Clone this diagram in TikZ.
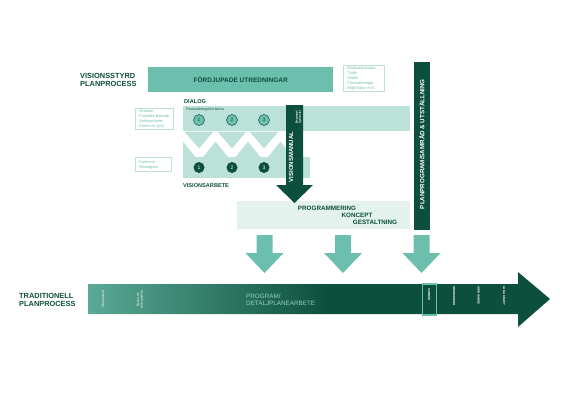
\documentclass[tikz,border=0pt]{standalone}
\usepackage{fontspec}
\setmainfont{Liberation Sans}
\definecolor{dkg}{HTML}{0D4F3D}
\definecolor{tl}{HTML}{6DBFAD}
\definecolor{lt}{HTML}{BBE1D8}
\definecolor{vlt}{HTML}{E4F2EE}
\definecolor{midtl}{HTML}{5AAA95}
\definecolor{pale}{HTML}{93D3C3}
\pgfdeclarehorizontalshading{barshade}{100bp}{color(0bp)=(midtl); color(25bp)=(midtl); color(51bp)=(dkg); color(100bp)=(dkg)}
\begin{document}
\begin{tikzpicture}[x=1pt,y=-1pt,
  biglbl/.style={font=\bfseries\fontsize{7.4}{8.8}\selectfont, text=dkg, align=left, inner sep=0},
  listbox/.style={draw=lt, line width=0.4pt, fill=white, font=\fontsize{3.9}{4.9}\selectfont, text=tl, align=left, inner sep=1.6pt, anchor=north west},
  circA/.style={circle, fill=tl, draw=dkg, line width=0.5pt, minimum size=11pt, inner sep=0, font=\fontsize{5}{6}\selectfont, text=dkg},
  circB/.style={circle, fill=dkg, minimum size=11pt, inner sep=0, font=\fontsize{5}{6}\selectfont, text=white},
  chev/.style={fill=lt, draw=white, line width=3pt, line join=miter},
  tlarrow/.style={fill=tl},
  barlbl/.style={rotate=-90, font=\bfseries\fontsize{2.9}{3.4}\selectfont, text=white, anchor=west, inner sep=0}
]
\useasboundingbox (0,0) rectangle (580,400);

% top label and box
\node[biglbl, anchor=west] (vsp) at (80,80) {VISIONSSTYRD\\PLANPROCESS};
\node[fill=tl, minimum width=185pt, minimum height=25pt, anchor=north west, inner sep=0,
      font=\bfseries\fontsize{6.5}{7.5}\selectfont, text=dkg] (fu) at (148,67) {FÖRDJUPADE UTREDNINGAR};
\node[listbox, text width=38pt] (l1) at (343,65) {- Marknadsanalys\\- Trafik\\- Skolor\\- Förutsättningar\\- Miljö/Natur m.fl.};

% vertical planprogram bar
\node[fill=dkg, minimum width=16pt, minimum height=168pt, anchor=north west, inner sep=0] (pp) at (413.5,62) {};
\node[rotate=90, font=\bfseries\fontsize{6.2}{7}\selectfont, text=white, inner sep=0] (ppt) at ([yshift=2]pp.center) {PLANPROGRAM/SAMRÅD \& UTSTÄLLNING};

% chevrons
\begin{scope}
\clip (183,131) rectangle (287,157);
\foreach \m in {183,215.5,248,280.5}
  \fill[chev] (\m-17,160) -- (\m+17,160) -- (\m,139) -- cycle;
\foreach \c in {199,232,264}
  \fill[chev] (\c-18,130) -- (\c+18,130) -- (\c,151) -- cycle;
\end{scope}

% dialog box
\node[fill=lt, minimum width=227pt, minimum height=25pt, anchor=north west, inner sep=0] (dlg) at (183,106) {};
\node[font=\bfseries\fontsize{5.6}{6.5}\selectfont, text=dkg, anchor=south west, inner sep=0] (dl) at (184,104) {DIALOG};
\node[font=\fontsize{3.5}{4}\selectfont, text=dkg, anchor=north west, inner sep=0] (fb) at (186,108) {Förutsättningslöst behov};
\node[listbox, text width=35pt] (l2) at (135,108) {- Grannar\\- Framtida boende\\- Verksamheter\\- Kommun (tjm)};

% visionsarbete box
\node[fill=lt, minimum width=127pt, minimum height=21pt, anchor=north west, inner sep=0] (va) at (183,157) {};
\node[font=\bfseries\fontsize{5.6}{6.5}\selectfont, text=dkg, anchor=west, inner sep=0] (val) at (183,185.5) {VISIONSARBETE};
\node[listbox, text width=33pt] (l3) at (135,157) {\\- Kommun\\- Markägare\\ };

% circles
\node[circA] (a1) at (199,120) {1};
\node[circA] (a2) at (232,120) {2};
\node[circA] (a3) at (264,120) {3};
\node[circB] (b1) at (199,167.5) {1};
\node[circB] (b2) at (232,167.5) {2};
\node[circB] (b3) at (264,167.5) {3};

% programmering box
\node[fill=vlt, minimum width=173pt, minimum height=28pt, anchor=north west, inner sep=0] (pg) at (237,201) {};
\node[font=\bfseries\fontsize{6.3}{7}\selectfont, text=dkg, inner sep=0] (pg1) at (327,208.5) {PROGRAMMERING};
\node[font=\bfseries\fontsize{6.3}{7}\selectfont, text=dkg, inner sep=0] (pg2) at (357,215.5) {KONCEPT};
\node[font=\bfseries\fontsize{6.3}{7}\selectfont, text=dkg, inner sep=0] (pg3) at (375,222.5) {GESTALTNING};

% visionsmanual arrow
\fill[dkg] (286,105) -- (303,105) -- (303,185) -- (313,185) -- (294.5,203) -- (276,185) -- (286,185) -- cycle;
\node[rotate=90, font=\bfseries\fontsize{6}{7}\selectfont, text=white, inner sep=0] (vm) at (291,157) {VISIONSMANUAL};
\node[rotate=90, font=\bfseries\fontsize{2.9}{3.2}\selectfont, text=white, align=center, inner sep=0] (bs) at (298.5,117) {Begrepp/\\Symboler};

% teal down arrows
\foreach \x in {264.5,343,421.5}
  \fill[tlarrow] (\x-8,235) -- (\x+8,235) -- (\x+8,253) -- (\x+19,253) -- (\x,273) -- (\x-19,253) -- (\x-8,253) -- cycle;

% traditional process arrow
\node[biglbl, anchor=west] (tp) at (19,300) {TRADITIONELL\\PLANPROCESS};
\shade[shading=barshade] (88,284) -- (518,284) -- (518,272) -- (550,299) -- (518,327) -- (518,314) -- (88,314) -- cycle;
\node[rotate=90, font=\fontsize{3.2}{3.6}\selectfont, text=white, inner sep=0] (pb) at (103,299.5) {Planbesked};
\node[rotate=90, font=\fontsize{3.2}{3.6}\selectfont, text=white, align=center, inner sep=0] (bp) at (140,299.5) {Beslut om\\planuppdrag};
\node[font=\fontsize{6.3}{7.2}\selectfont, text=pale, align=left, anchor=west, inner sep=0] (dp) at (246,300) {PROGRAM/\\DETALJPLANEARBETE};
\node[draw=tl, line width=1.1pt, minimum width=14pt, minimum height=31pt, inner sep=0] (sam) at (429.5,299.5) {};
\node[barlbl] (samt) at (429.5,288) {SAMRÅD};
\node[barlbl] (gr) at (454,286) {GRANSKNING};
\node[barlbl] (an) at (478.5,286) {ANTAGANDE};
\node[barlbl] (lk) at (504,286) {LAGA KRAFT};
\end{tikzpicture}
\end{document}
